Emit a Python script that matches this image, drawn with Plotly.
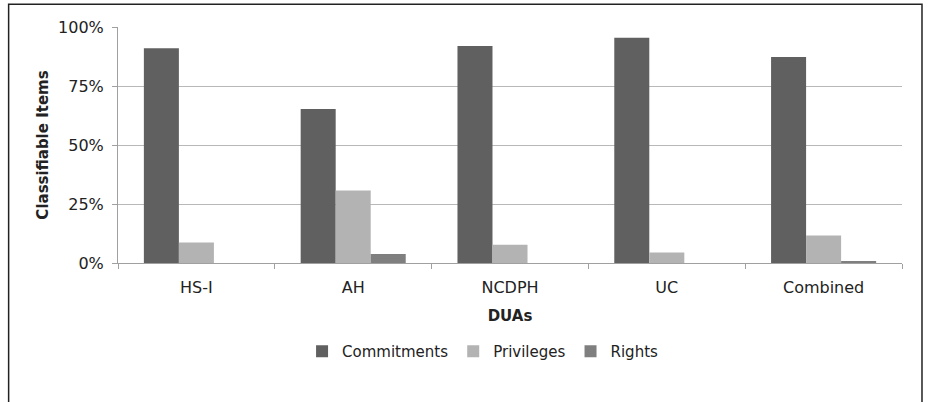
import plotly.graph_objects as go

categories = ["HS-I", "AH", "NCDPH", "UC", "Combined"]
commitments = [0.91, 0.653, 0.92, 0.954, 0.873]
privileges = [0.087, 0.307, 0.077, 0.045, 0.117]
rights = [0.0, 0.038, 0.0, 0.0, 0.006]

series = [
    ("Commitments", commitments, "#606060"),
    ("Privileges", privileges, "#b3b3b3"),
    ("Rights", rights, "#7f7f7f"),
]

fig = go.Figure()
for name, vals, col in series:
    fig.add_trace(go.Bar(x=categories, y=vals, name=name, marker=dict(color=col, line=dict(width=0))))

font = "DejaVu Sans, Verdana, sans-serif"
fig.update_layout(
    width=930, height=402,
    margin=dict(l=118, r=28, t=27, b=139),
    paper_bgcolor="white", plot_bgcolor="white",
    barmode="group", bargap=0.33, bargroupgap=0,
    font=dict(family=font, size=16, color="#222222"),
    showlegend=True,
    legend=dict(orientation="h", x=0.465, xanchor="center", y=-0.375, yanchor="middle",
                font=dict(size=15, color="#222222"), itemwidth=30, traceorder="normal",
                tracegroupgap=0),
    shapes=[dict(type="rect", xref="paper", yref="paper", x0=-0.1395, x1=1.0255, y0=-1.2, y1=1.0965,
                 line=dict(color="#222222", width=1.5), fillcolor="rgba(0,0,0,0)")],
)
fig.update_xaxes(
    showline=True, linecolor="#a0a0a0", linewidth=1,
    ticks="outside", tickson="boundaries", ticklen=5, tickcolor="#a0a0a0",
    ticklabelstandoff=10,
    title=dict(text="<b>DUAs</b>", font=dict(size=15), standoff=14),
    showgrid=False,
)
fig.update_yaxes(
    range=[0, 1], tickvals=[0, 0.25, 0.5, 0.75, 1.0], tickformat=".0%",
    showline=True, linecolor="#a0a0a0", linewidth=1,
    ticks="outside", ticklen=5, tickcolor="#a0a0a0",
    ticklabelstandoff=5,
    showgrid=True, gridcolor="#b8b8b8", gridwidth=1,
    zeroline=False,
    title=dict(text="<b>Classifiable Items</b>", font=dict(size=15), standoff=5),
)

fig.write_html("out.html")
